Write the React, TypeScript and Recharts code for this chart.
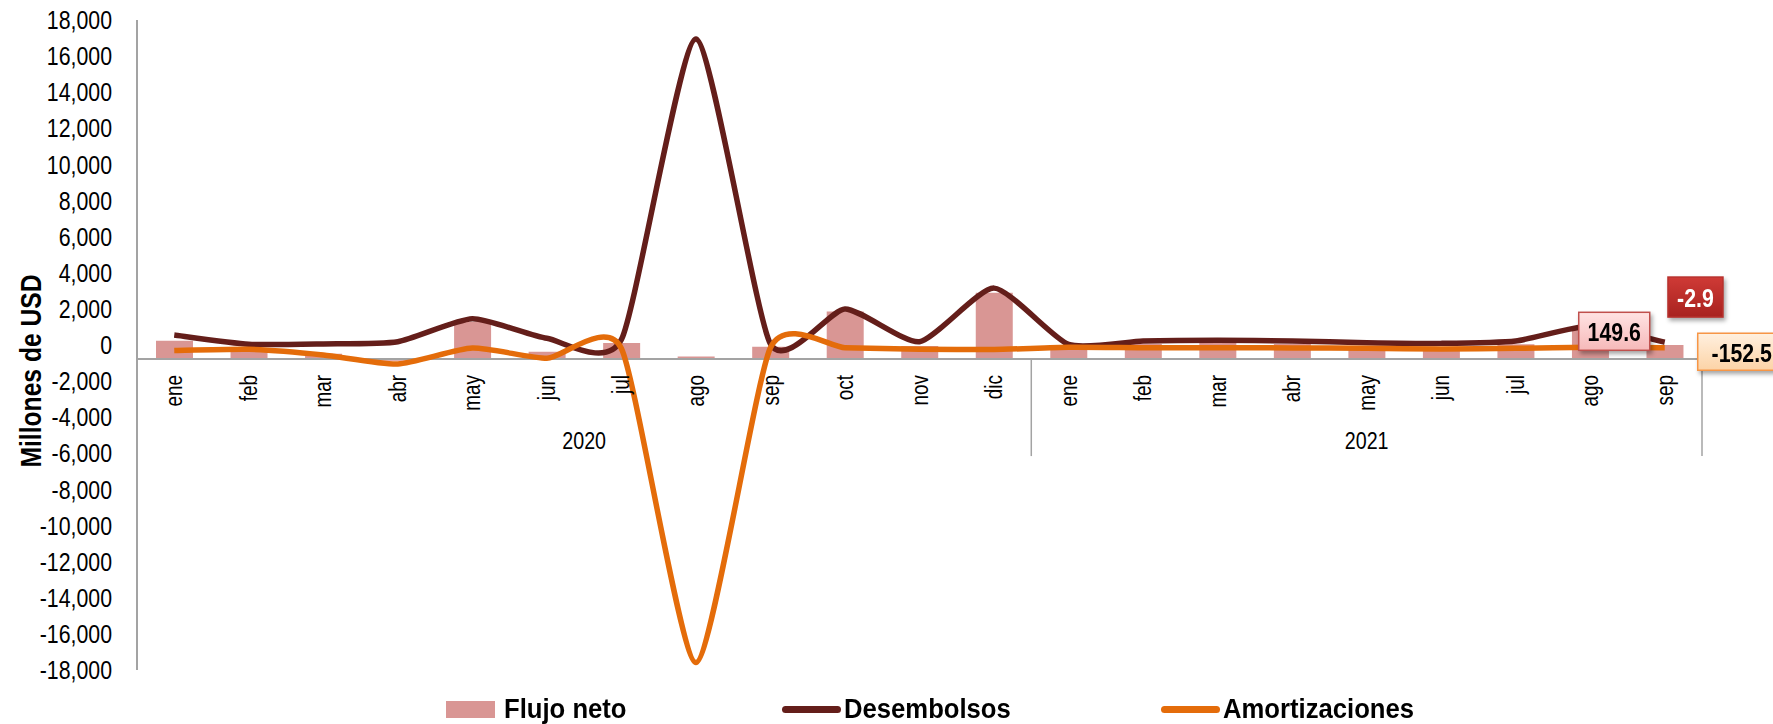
import {
  Bar,
  ComposedChart,
  LabelList,
  Legend,
  Line,
  ReferenceLine,
  XAxis,
  YAxis,
} from 'recharts'

// months from ene 2020 to sep 2021
const months = ['ene', 'feb', 'mar', 'abr', 'may', 'jun', 'jul', 'ago', 'sep', 'oct', 'nov', 'dic',
  'ene', 'feb', 'mar', 'abr', 'may', 'jun', 'jul', 'ago', 'sep']
const years = ['2020', '2021']
const monthsPerYear = [12, 9]

const flujoNeto = [240, -300, -490, -870, 1280, -370, 110, -640, -90, 1850, -60, 2900,
  -100, 70, 120, 60, -55, -130, 35, 950, -2.9]
const desembolsos = [550, 40, 60, 180, 1450, 370, 300, 16950, 60, 2000, 180, 3150,
  30, 220, 270, 220, 130, 90, 220, 1050, 149.6]
const amortizaciones = [-310, -240, -550, -1050, -170, -740, -190, -17590, -150, -150, -240, -250,
  -130, -150, -150, -160, -185, -220, -185, -130, -152.5]

const yTicks = [-18000, -16000, -14000, -12000, -10000, -8000, -6000, -4000, -2000, 0,
  2000, 4000, 6000, 8000, 10000, 12000, 14000, 16000, 18000]

// value where the category axis crosses the value axis
const axisCross = -780

const W = 1773
const H = 724
const plotTop = 20
const plotBottom = H - 54
const yMin = -18000
const yMax = 18000
const crossY = plotTop + ((yMax - axisCross) / (yMax - yMin)) * (plotBottom - plotTop)

const FONT = "'Liberation Sans', Arial, sans-serif"
const SX = 0.82 // narrow look
const GRAY = '#a3a3a3'
const PINK = '#d99694'
const MAROON = '#641e1a'
const ORANGE = '#e46c0a'

const data = months.map((month, i) => ({
  month,
  flujo: flujoNeto[i],
  desembolsos: desembolsos[i],
  amortizaciones: amortizaciones[i],
}))

// first index of each year group
const yearStarts = monthsPerYear.map((_, i) => monthsPerYear.slice(0, i).reduce((a, b) => a + b, 0))

// Excel-like smoothed line (cardinal spline through the points)
function smooth(k: number) {
  return (context: any) => {
    let pts: number[][] = []
    return {
      areaStart() {},
      areaEnd() {},
      lineStart() {
        pts = []
      },
      lineEnd() {
        if (!pts.length) return
        context.moveTo(pts[0][0], pts[0][1])
        for (let i = 0; i < pts.length - 1; i++) {
          const p0 = pts[i - 1] || pts[i]
          const p1 = pts[i]
          const p2 = pts[i + 1]
          const p3 = pts[i + 2] || p2
          context.bezierCurveTo(
            p1[0] + (p2[0] - p0[0]) * k,
            p1[1] + (p2[1] - p0[1]) * k,
            p2[0] - (p3[0] - p1[0]) * k,
            p2[1] - (p3[1] - p1[1]) * k,
            p2[0],
            p2[1],
          )
        }
      },
      point(x: number, y: number) {
        pts.push([+x, +y])
      },
    }
  }
}
const curve = smooth(0.1)

const last = months.length - 1

// condensed text (no narrow font installed)
function NText({ x, y, anchor = 'middle', size, bold, fill = '#000', rotate = 0, sx = SX, children }: any) {
  return (
    <g transform={`translate(${x} ${y}) rotate(${rotate}) scale(${sx} 1)`}>
      <text x={0} y={0} dy="0.35em" textAnchor={anchor} fontFamily={FONT} fontSize={size} fontWeight={bold ? 'bold' : 'normal'} fill={fill}>
        {children}
      </text>
    </g>
  )
}

function Callout({ cx, cy, w, h, text, fill, stroke, color }: any) {
  return (
    <g style={{ filter: 'drop-shadow(2px 3px 2px rgba(0,0,0,0.35))' }}>
      <rect x={cx - w / 2} y={cy - h / 2} width={w} height={h} fill={fill} stroke={stroke} strokeWidth={1.5} />
      <NText x={cx} y={cy + 1} size={26} bold fill={color}>{text}</NText>
    </g>
  )
}

function MonthTick({ x, payload, index }: any) {
  const half = payload.offset || 0
  const marks = []
  marks.push(
    <NText key="m" x={x} y={crossY + 16} anchor="end" rotate={-90} size={23}>{payload.value}</NText>,
  )
  yearStarts.forEach((s, yi) => {
    const n = monthsPerYear[yi]
    if (index === s + Math.floor(n / 2)) {
      const cx = n % 2 === 0 ? x - half : x
      marks.push(<NText key="y" x={cx} y={crossY + 82} size={24}>{years[yi]}</NText>)
    }
    if (index === s + n - 1) {
      marks.push(<line key="d" x1={x + half} x2={x + half} y1={crossY} y2={crossY + 97} stroke={GRAY} strokeWidth={1.5} />)
    }
  })
  return <g>{marks}</g>
}

function ValueTick({ x, y, payload }: any) {
  return <NText x={x} y={y} anchor="end" size={26}>{payload.value.toLocaleString('en-US')}</NText>
}

function LegendContent() {
  const label = { fontFamily: FONT, fontWeight: 'bold', fontSize: 27, color: '#000', lineHeight: '28px', transform: 'scaleX(0.95)', transformOrigin: 'left center', whiteSpace: 'nowrap' } as const
  const item = (left: number) => ({ position: 'absolute', left, top: 0, display: 'flex', alignItems: 'center', height: 28 }) as const
  return (
    <div style={{ position: 'relative', height: 28 }}>
      <div style={item(446)}>
        <span style={{ width: 49, height: 17, background: PINK, marginRight: 9 }} />
        <span style={label}>Flujo neto</span>
      </div>
      <div style={item(782)}>
        <span style={{ width: 59, height: 7, borderRadius: 4, background: MAROON, marginRight: 3 }} />
        <span style={label}>Desembolsos</span>
      </div>
      <div style={item(1161)}>
        <span style={{ width: 59, height: 7, borderRadius: 4, background: ORANGE, marginRight: 3 }} />
        <span style={label}>Amortizaciones</span>
      </div>
    </div>
  )
}

export default function App() {
  return (
    <div style={{ position: 'absolute', left: 0, top: 0, width: W, height: H, background: '#fff', overflow: 'hidden' }}>
      <ComposedChart width={W} height={H} data={data} margin={{ top: plotTop, right: 71, bottom: 53, left: 0 }}>
        <defs>
          <linearGradient id="boxPink" x1="0" y1="0" x2="0" y2="1">
            <stop offset="0%" stopColor="#ffe3e3" />
            <stop offset="100%" stopColor="#f6b9b9" />
          </linearGradient>
          <linearGradient id="boxRed" x1="0" y1="0" x2="0" y2="1">
            <stop offset="0%" stopColor="#cf3a36" />
            <stop offset="100%" stopColor="#a8221f" />
          </linearGradient>
          <linearGradient id="boxOrange" x1="0" y1="0" x2="0" y2="1">
            <stop offset="0%" stopColor="#fff0df" />
            <stop offset="100%" stopColor="#fcd3a6" />
          </linearGradient>
        </defs>
        <XAxis dataKey="month" interval={0} height={1} axisLine={false} tickLine={false} tick={(p: any) => <MonthTick {...p} />} />
        <YAxis
          width={137}
          domain={[yMin, yMax]}
          ticks={yTicks}
          interval={0}
          allowDataOverflow
          axisLine={{ stroke: GRAY, strokeWidth: 2 }}
          tickLine={false}
          tickSize={0}
          tickMargin={25}
          tick={(p: any) => <ValueTick {...p} />}
          label={{
            content: ({ viewBox }: any) => (
              <NText x={viewBox.x + 31} y={viewBox.y + viewBox.height / 2 + 26} rotate={-90} size={29} sx={0.85} bold>
                Millones de USD
              </NText>
            ),
          }}
        />
        <ReferenceLine y={axisCross} stroke={GRAY} strokeWidth={2} />
        <Bar dataKey={(d: any) => [axisCross, d.flujo]} name="Flujo neto" fill={PINK} barSize={37} isAnimationActive={false}>
          <LabelList
            dataKey="flujo"
            content={(p: any) =>
              p.index === last ? (
                <Callout cx={p.x + p.width / 2 + 30.5} cy={p.y - 48} w={55} h={40} text={flujoNeto[last].toFixed(1)} fill="url(#boxRed)" stroke="#b8312d" color="#fff" />
              ) : null
            }
          />
        </Bar>
        <Line dataKey="desembolsos" name="Desembolsos" type={curve as any} stroke={MAROON} strokeWidth={5.5} dot={false} activeDot={false} isAnimationActive={false}>
          <LabelList
            dataKey="desembolsos"
            content={(p: any) =>
              p.index === last ? (
                <Callout cx={p.x - 50.5} cy={p.y - 11} w={71} h={38} text={desembolsos[last].toFixed(1)} fill="url(#boxPink)" stroke="#c0504d" color="#000" />
              ) : null
            }
          />
        </Line>
        <Line dataKey="amortizaciones" name="Amortizaciones" type={curve as any} stroke={ORANGE} strokeWidth={5.5} dot={false} activeDot={false} isAnimationActive={false}>
          <LabelList
            dataKey="amortizaciones"
            content={(p: any) =>
              p.index === last ? (
                <Callout cx={p.x + 77} cy={p.y + 4} w={88} h={37} text={amortizaciones[last].toFixed(1)} fill="url(#boxOrange)" stroke="#f79646" color="#000" />
              ) : null
            }
          />
        </Line>
        <Legend
          layout="horizontal"
          verticalAlign="middle"
          align="center"
          wrapperStyle={{ top: 695, left: 0, width: W }}
          content={() => <LegendContent />}
        />
      </ComposedChart>
    </div>
  )
}
